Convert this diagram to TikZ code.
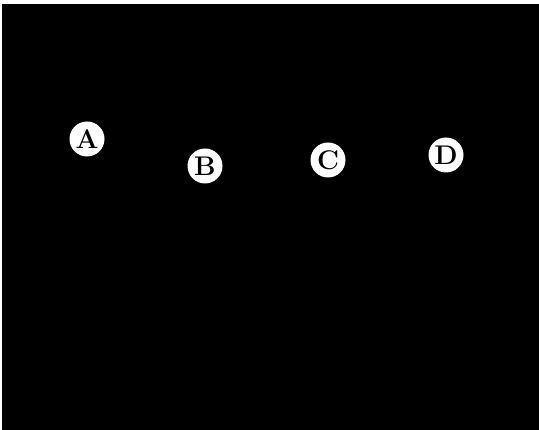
\documentclass[tikz,border=0pt]{standalone}
\usepackage{fontspec}
\begin{document}
\begin{tikzpicture}[x=1pt,y=-1pt,
  dot/.style={circle,fill=white,minimum size=35pt,inner sep=0pt,font=\fontsize{27}{27}\selectfont\bfseries,text=black}]
\useasboundingbox (0,0) rectangle (539,430);
\fill[white] (0,0) rectangle (539,430);
\fill[black] (2,4) rectangle (540,431);
\node[dot] (A) at (87,139) {A};
\node[dot] (B) at (205,166) {B};
\node[dot] (C) at (328,160) {C};
\node[dot] (D) at (446,155) {D};
\end{tikzpicture}
\end{document}
